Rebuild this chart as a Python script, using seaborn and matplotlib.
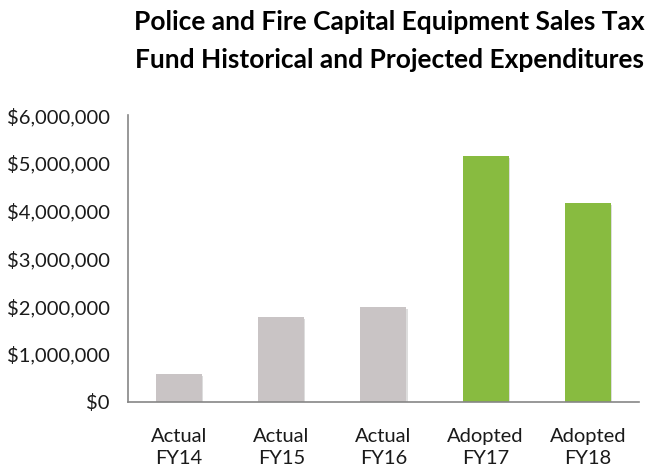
import matplotlib
matplotlib.use("Agg")
import matplotlib.pyplot as plt
import matplotlib.patheffects as pe
from matplotlib.ticker import FuncFormatter, FixedLocator
import seaborn as sns
import pandas as pd

# Expenditure data by fiscal year
categories = ["Actual\nFY14", "Actual\nFY15", "Actual\nFY16", "Adopted\nFY17", "Adopted\nFY18"]
expenditures = [580000, 1770000, 1980000, 5140000, 4160000]
status = ["Actual", "Actual", "Actual", "Adopted", "Adopted"]
y_ticks = [0, 1000000, 2000000, 3000000, 4000000, 5000000, 6000000]

palette = {"Actual": "#C9C4C5", "Adopted": "#88BB40"}
axis_grey = "#868686"

sns.set_style("white")
plt.rcParams["font.family"] = ["Lato", "DejaVu Sans"]

df = pd.DataFrame({"category": categories, "value": expenditures, "status": status})

fig = plt.figure(figsize=(6.55, 4.72), dpi=100)
ax = fig.add_axes([0.1954, 0.149, 0.780, 0.607])

sns.barplot(data=df, x="category", y="value", hue="status", palette=palette,
            dodge=False, width=0.45, legend=False, saturation=1, ax=ax)

# soft shadow around each bar
for patch in ax.patches:
    patch.set_linewidth(0)
    patch.set_path_effects([
        pe.SimplePatchShadow(offset=(0.8, -1.2), shadow_rgbFace="#7a7a7a", alpha=0.25),
        pe.Normal(),
    ])

ax.set_xlim(-0.5, 4.5)
ax.set_ylim(0, 6000000)
ax.set_yticks(y_ticks)
ax.yaxis.set_major_formatter(FuncFormatter(lambda v, _: f"${v:,.0f}"))

# category boundaries carry the tick marks; labels sit at the centres
ax.xaxis.set_major_locator(FixedLocator([i - 0.5 for i in range(len(categories) + 1)]))
ax.xaxis.set_minor_locator(FixedLocator(list(range(len(categories)))))
ax.set_xticklabels([], minor=False)
ax.set_xticklabels(categories, minor=True)
ax.tick_params(axis="x", which="major", length=5, width=1, color=axis_grey, direction="out")
ax.tick_params(axis="x", which="minor", length=0, pad=19, labelsize=14.5, labelcolor="#1a1a1a")
ax.tick_params(axis="y", length=5, width=1, color=axis_grey, direction="out",
               labelsize=14.5, labelcolor="#1a1a1a", pad=8)
for lab in ax.get_xticklabels(minor=True):
    lab.set_linespacing(1.35)

ax.set_xlabel("")
ax.set_ylabel("")
for side in ["top", "right"]:
    ax.spines[side].set_visible(False)
for side in ["left", "bottom"]:
    ax.spines[side].set_color(axis_grey)
    ax.spines[side].set_linewidth(1.2)

fig.text(0.595, 0.978, "Police and Fire Capital Equipment Sales Tax\nFund Historical and Projected Expenditures",
         ha="center", va="top", fontsize=19, fontweight="bold", linespacing=1.7, color="#000000")

fig.savefig("out.png", dpi=100)
